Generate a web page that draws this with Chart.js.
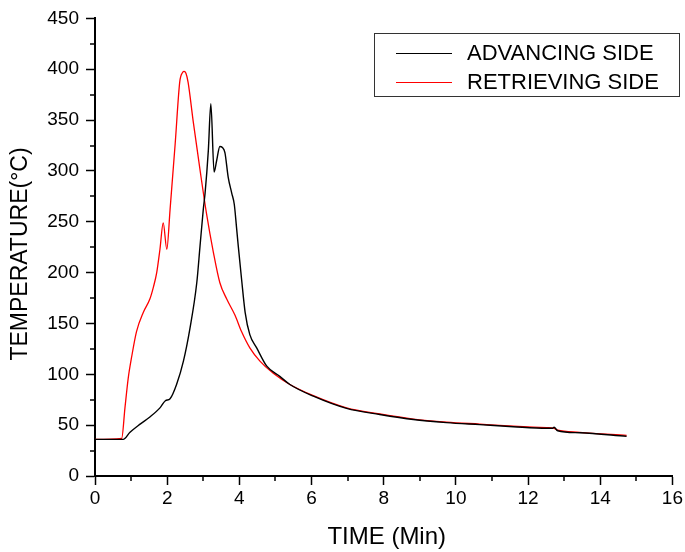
<!DOCTYPE html>
<html>
<head>
<meta charset="utf-8">
<script src="https://cdn.jsdelivr.net/npm/chart.js@4/dist/chart.umd.min.js"></script>
<style>
  html,body{margin:0;padding:0;background:#fff;}
  canvas{display:block;}
</style>
</head>
<body>
<canvas id="c" width="685" height="552"></canvas>
<script>
// advancing side (black)
const advTime = [0, 0.78, 0.97, 1.25, 1.52, 1.80, 1.95, 2.08, 2.26, 2.45, 2.63, 2.82, 2.91, 3.00, 3.05, 3.14, 3.21, 3.30, 3.37, 3.46, 3.53, 3.60, 3.69, 3.79, 3.86, 3.92, 3.97, 4.06, 4.16, 4.29, 4.48, 4.76, 5.12, 5.40, 6.05, 6.97, 7.89, 8.82, 9.74, 10.66, 11.59, 12.51, 12.68, 12.72, 12.82, 13.43, 14.73];
const advTemp = [36, 36, 43, 51, 58, 67, 74, 76, 90, 113, 145, 190, 226, 262, 278, 320, 366, 299, 310, 324, 323, 318, 294, 278, 267, 245, 226, 194, 161, 139, 126, 108, 98, 90, 78.5, 66.5, 60.5, 55.5, 52.5, 50.5, 48.5, 47, 47, 48, 44.5, 42.5, 39];
// retrieving side (red)
const retTime = [0, 0.74, 0.83, 0.92, 1.02, 1.15, 1.34, 1.52, 1.62, 1.71, 1.80, 1.89, 1.99, 2.08, 2.22, 2.35, 2.43, 2.47, 2.52, 2.58, 2.72, 2.91, 3.09, 3.28, 3.46, 3.65, 3.88, 4.06, 4.29, 4.57, 4.94, 5.40, 6.05, 6.97, 7.89, 8.82, 9.74, 10.66, 11.59, 12.51, 12.70, 12.82, 13.43, 14.73];
const retTemp = [36, 37, 67, 96, 118, 142, 161, 174, 186, 200, 223, 249, 223, 262, 326, 388, 397, 398, 396, 387, 349, 301, 258, 220, 190, 174, 158, 142, 126, 113, 101, 90, 79, 67, 61, 56, 53, 51, 49, 47.5, 47, 45, 43, 40];

const seriesLabels = ["ADVANCING SIDE", "RETRIEVING SIDE"];
const xTitle = "TIME (Min)";
const yTitle = "TEMPERATURE(°C)";

function pts(xs, ys){ return xs.map((x,i)=>({x:x, y:ys[i]})); }

const FONT = "'Liberation Sans', Arial, sans-serif";

// minor ticks, axis titles and boxed legend
const extras = {
  id: "extras",
  afterDraw(chart){
    const ctx = chart.ctx, xs = chart.scales.x, ys = chart.scales.y, a = chart.chartArea;
    ctx.save();
    ctx.strokeStyle = "#000"; ctx.lineWidth = 1.5;
    for(let v=1; v<16; v+=2){
      const px = Math.round(xs.getPixelForValue(v));
      ctx.beginPath(); ctx.moveTo(px, a.bottom); ctx.lineTo(px, a.bottom+5); ctx.stroke();
    }
    for(let v=25; v<450; v+=50){
      const py = Math.round(ys.getPixelForValue(v));
      ctx.beginPath(); ctx.moveTo(a.left, py); ctx.lineTo(a.left-5, py); ctx.stroke();
    }
    // axis titles
    ctx.fillStyle = "#000";
    ctx.font = "24px " + FONT;
    ctx.textAlign = "center"; ctx.textBaseline = "alphabetic";
    ctx.fillText(xTitle, (a.left+a.right)/2 + 3, 544);
    ctx.save();
    ctx.translate(27, 254); ctx.rotate(-Math.PI/2);
    ctx.font = "23px " + FONT;
    ctx.fillText(yTitle, 0, 0);
    ctx.restore();
    // legend
    ctx.strokeStyle = "#333"; ctx.lineWidth = 1;
    ctx.strokeRect(374.5, 33.5, 305, 63);
    ctx.font = "22px " + FONT;
    ctx.textAlign = "left"; ctx.textBaseline = "middle";
    chart.data.datasets.forEach((d,i)=>{
      const y = 53 + i*29;
      ctx.strokeStyle = d.borderColor; ctx.lineWidth = 1.2;
      ctx.beginPath(); ctx.moveTo(396, y+0.5); ctx.lineTo(452, y+0.5); ctx.stroke();
      ctx.fillStyle = "#000";
      ctx.fillText(d.label, 467, y+1);
    });
    ctx.restore();
  }
};

new Chart(document.getElementById("c"), {
  type: "line",
  data: {
    datasets: [
      {label: seriesLabels[0], data: pts(advTime, advTemp), borderColor: "#000000", borderWidth: 1.4,
       pointRadius: 0, fill: false, cubicInterpolationMode: "monotone"},
      {label: seriesLabels[1], data: pts(retTime, retTemp), borderColor: "#ff0000", borderWidth: 1.3,
       pointRadius: 0, fill: false, cubicInterpolationMode: "monotone"}
    ]
  },
  options: {
    responsive: false,
    animation: false,
    layout: {padding: {top: 12, right: 12, left: 0, bottom: 0}},
    plugins: {legend: {display: false}, tooltip: {enabled: false}},
    scales: {
      x: {
        type: "linear", min: 0, max: 16,
        afterFit(s){ s.height = 76; },
        ticks: {stepSize: 2, color: "#000", font: {size: 19, family: FONT}, padding: 2, maxRotation: 0},
        grid: {drawOnChartArea: false, drawTicks: true, tickLength: 9, tickColor: "#000", tickWidth: 1.5},
        border: {display: true, color: "#000", width: 2}
      },
      y: {
        type: "linear", min: 0, max: 450,
        afterFit(s){ s.width = 95; },
        ticks: {stepSize: 50, color: "#000", font: {size: 19, family: FONT}, padding: 7},
        grid: {drawOnChartArea: false, drawTicks: true, tickLength: 9, tickColor: "#000", tickWidth: 1.5},
        border: {display: true, color: "#000", width: 2}
      }
    }
  },
  plugins: [extras]
});
</script>
</body>
</html>
